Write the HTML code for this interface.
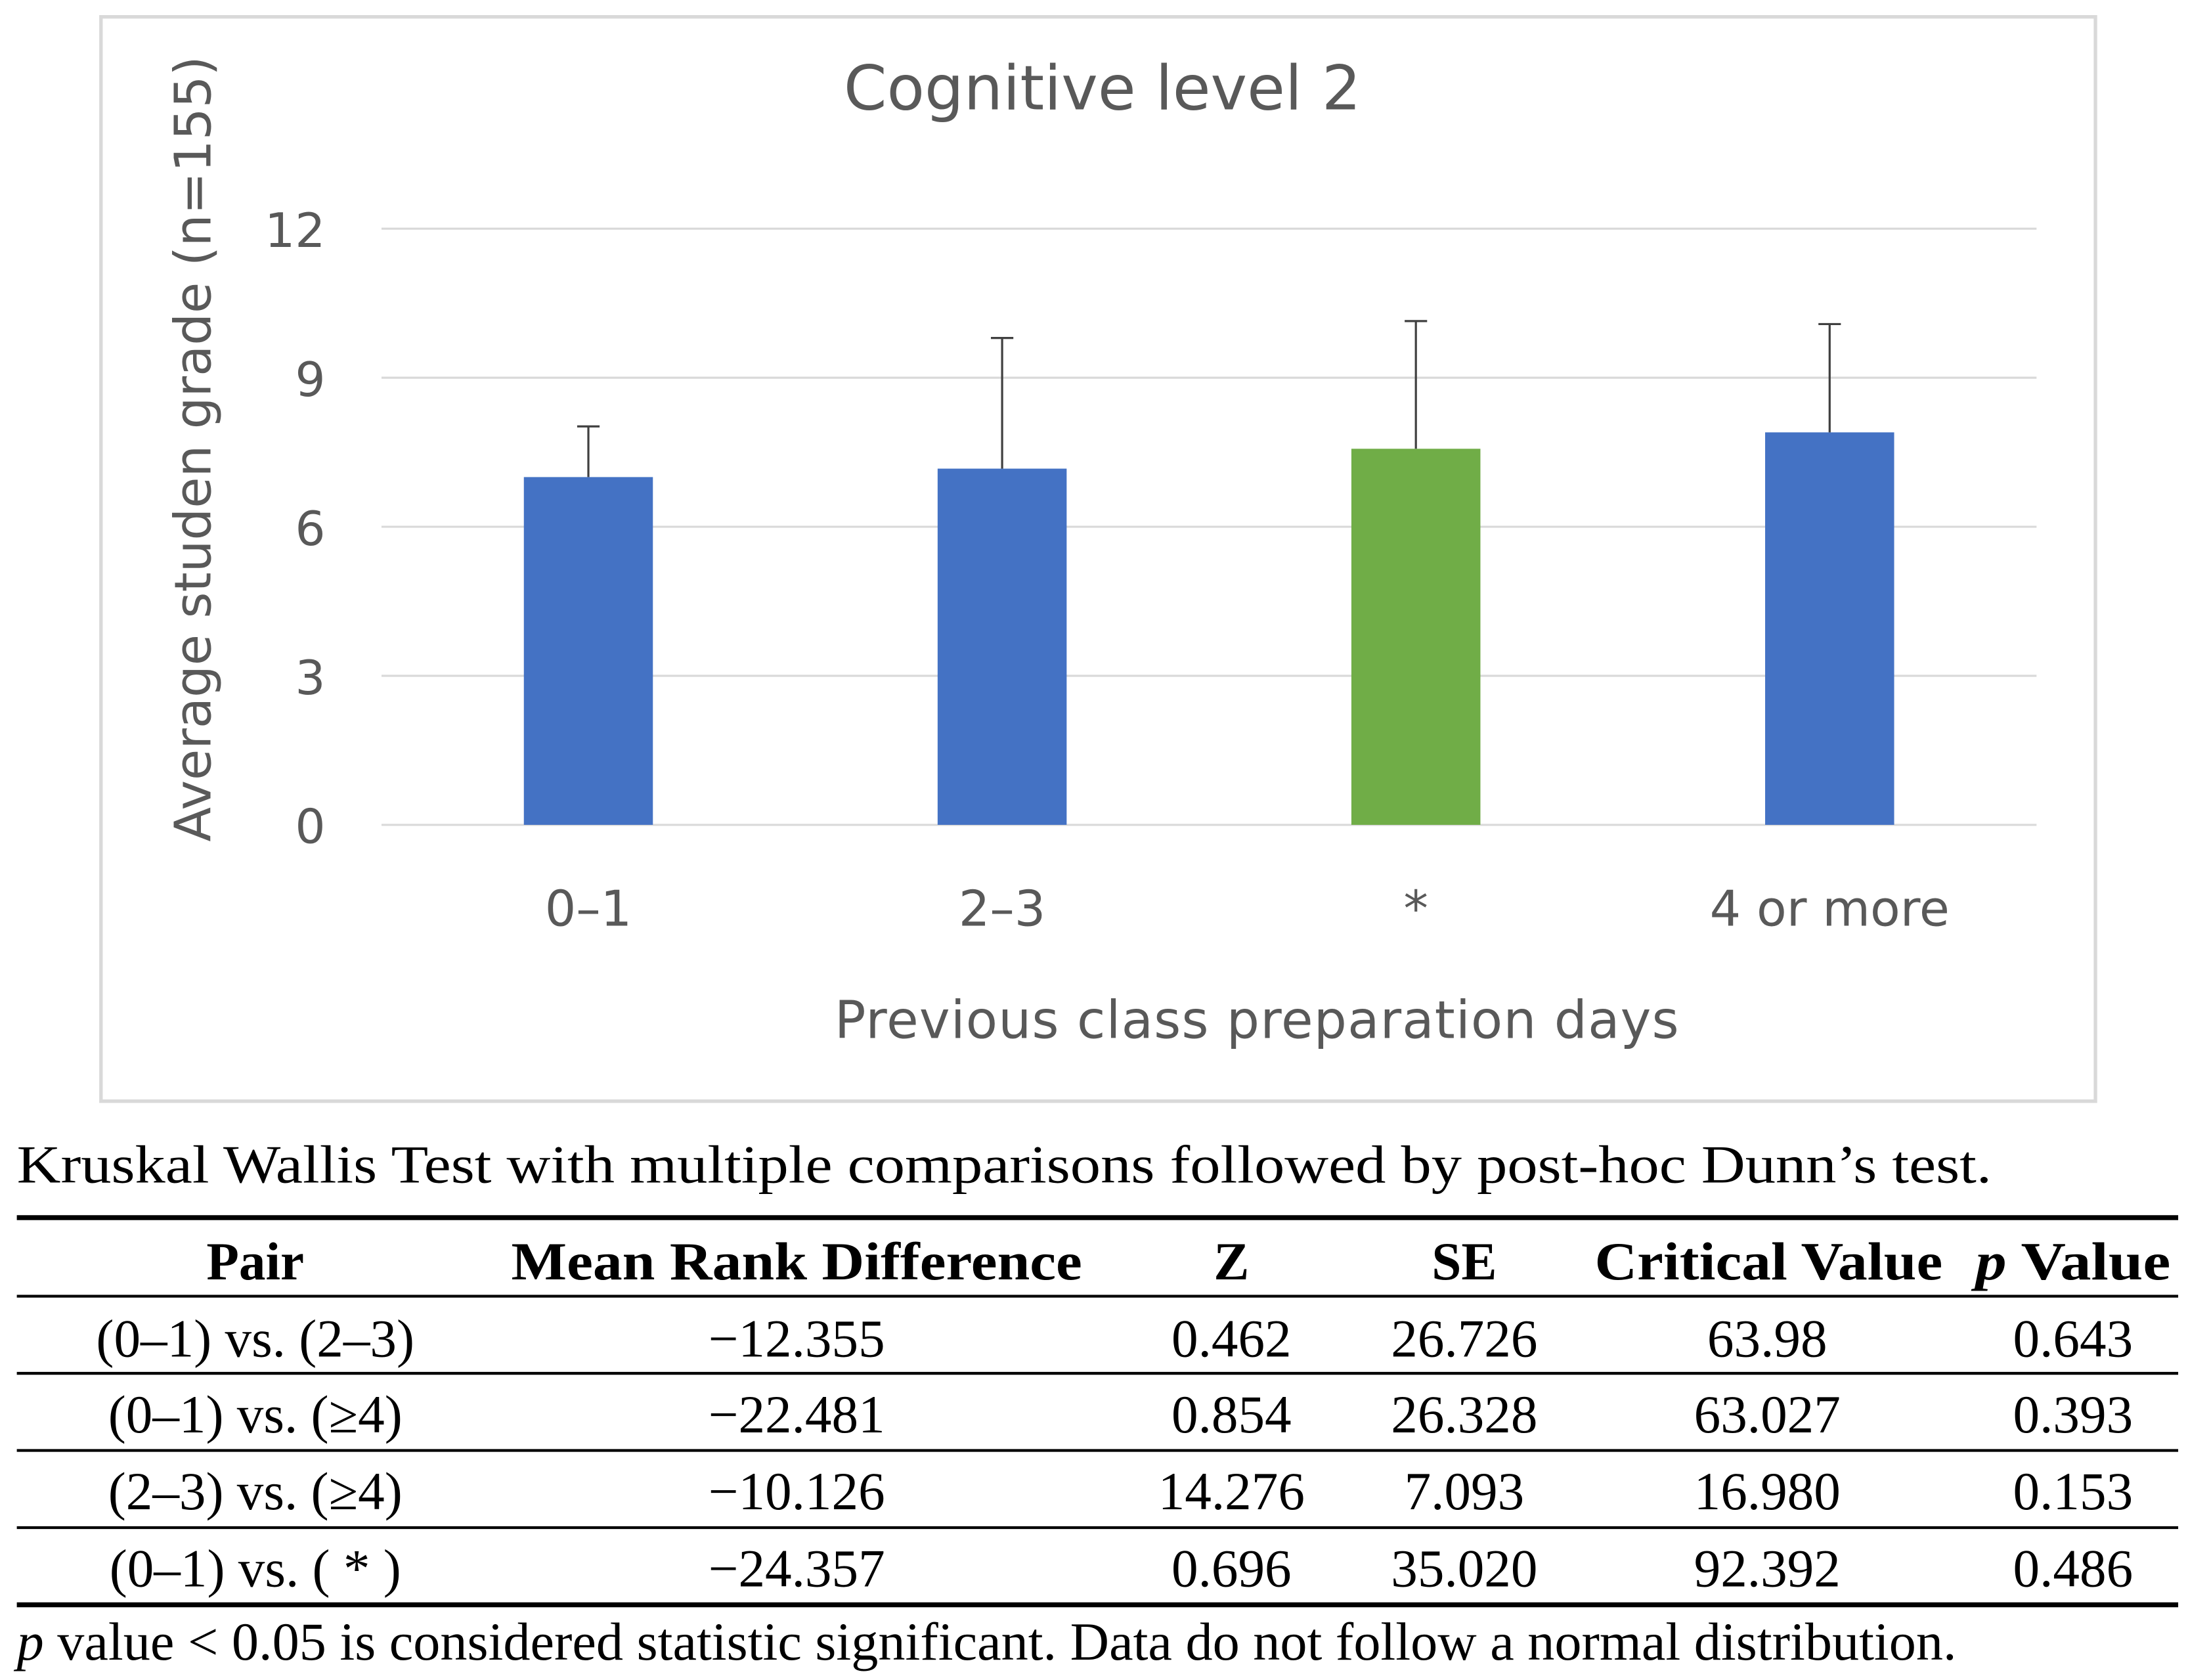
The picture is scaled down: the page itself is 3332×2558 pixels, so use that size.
<!DOCTYPE html>
<html><head><meta charset="utf-8"><style>html,body{margin:0;padding:0;background:#fff}svg{display:block}</style></head>
<body>
<svg width="3332" height="2558" viewBox="0 0 1560 1197.6" xmlns="http://www.w3.org/2000/svg">
<rect x="0" y="0" width="1560" height="1197.6" fill="#fff"/>
<rect x="72" y="12" width="1422" height="773" fill="#fff" stroke="#d9d9d9" stroke-width="2.5"/>
<text x="786" y="78" text-anchor="middle" font-family="'DejaVu Sans',sans-serif" font-size="44" fill="#595959">Cognitive level 2</text>
<g id="grid"></g>
<g id="bars"></g>
<text transform="translate(150,320) rotate(-90)" text-anchor="middle" font-family="'DejaVu Sans',sans-serif" font-size="36" fill="#595959">Average studen grade (n=155)</text>
<text x="896" y="740" text-anchor="middle" font-family="'DejaVu Sans',sans-serif" font-size="37" fill="#595959" textLength="602">Previous class preparation  days</text>

<g font-family="'Liberation Serif',serif" font-size="38" fill="#000">
<text x="12" y="843" textLength="1408" lengthAdjust="spacingAndGlyphs">Kruskal Wallis Test with multiple comparisons followed by post-hoc Dunn’s test.</text>
<line x1="12" y1="868" x2="1553" y2="868" stroke="#000" stroke-width="3.5"/>
<line x1="12" y1="924" x2="1553" y2="924" stroke="#000" stroke-width="2"/>
<line x1="12" y1="979" x2="1553" y2="979" stroke="#000" stroke-width="2"/>
<line x1="12" y1="1034" x2="1553" y2="1034" stroke="#000" stroke-width="2"/>
<line x1="12" y1="1089" x2="1553" y2="1089" stroke="#000" stroke-width="2"/>
<line x1="12" y1="1144" x2="1553" y2="1144" stroke="#000" stroke-width="3.5"/>
<g font-weight="bold" text-anchor="middle">
<text x="182" y="912">Pair</text><text x="568" y="912" textLength="407" lengthAdjust="spacingAndGlyphs">Mean Rank Difference</text><text x="878" y="912">Z</text><text x="1044" y="912">SE</text><text x="1261" y="912" textLength="248" lengthAdjust="spacingAndGlyphs">Critical Value</text><text x="1478" y="912" textLength="139" lengthAdjust="spacingAndGlyphs"><tspan font-style="italic">p</tspan> Value</text>
</g>
<g text-anchor="middle">
<text x="182" y="967">(0–1) vs. (2–3)</text><text x="568" y="967">−12.355</text><text x="878" y="967">0.462</text><text x="1044" y="967">26.726</text><text x="1260" y="967">63.98</text><text x="1478" y="967">0.643</text>
<text x="182" y="1021">(0–1) vs. (≥4)</text><text x="568" y="1021">−22.481</text><text x="878" y="1021">0.854</text><text x="1044" y="1021">26.328</text><text x="1260" y="1021">63.027</text><text x="1478" y="1021">0.393</text>
<text x="182" y="1076">(2–3) vs. (≥4)</text><text x="568" y="1076">−10.126</text><text x="878" y="1076">14.276</text><text x="1044" y="1076">7.093</text><text x="1260" y="1076">16.980</text><text x="1478" y="1076">0.153</text>
<text x="182" y="1131">(0–1) vs. ( * )</text><text x="568" y="1131">−24.357</text><text x="878" y="1131">0.696</text><text x="1044" y="1131">35.020</text><text x="1260" y="1131">92.392</text><text x="1478" y="1131">0.486</text>
</g>
<text x="12" y="1183" textLength="1383" lengthAdjust="spacingAndGlyphs"><tspan font-style="italic">p</tspan> value &lt; 0.05 is considered statistic significant. Data do not follow a normal distribution.</text>
</g>
</svg>
<script>
const categories = ["0–1","2–3","*","4 or more"];
const means = [7.0, 7.17, 7.57, 7.9];
const errUpper = [8.02, 9.8, 10.14, 10.08];
const colors = ["#4472c4","#4472c4","#70ad47","#4472c4"];
const yTicks = [0,3,6,9,12];
const NS="http://www.w3.org/2000/svg";
const y0=588, y12=163, xL=272, xR=1452;
function yS(v){return y0-(v/12)*(y0-y12);}
function xS(i){return xL+(i+0.5)*(xR-xL)/categories.length;}
const grid=document.getElementById('grid'), bars=document.getElementById('bars');
function mk(tag,attrs,parent){const e=document.createElementNS(NS,tag);for(const k in attrs)e.setAttribute(k,attrs[k]);parent.appendChild(e);return e;}
yTicks.forEach(t=>{
  const l=mk('line',{x1:xL,x2:xR,y1:yS(t),y2:yS(t),stroke:'#d9d9d9','stroke-width':1.5},grid);
  
  
  const tx=mk('text',{x:232,y:yS(t)+13,'text-anchor':'end','font-family':"'DejaVu Sans',sans-serif",'font-size':34,fill:'#595959'},grid);
  tx.textContent=t;
  
  
});
const bw=92;
categories.forEach((c,i)=>{
  const cx=xS(i);
  const r=mk('rect',{x:cx-bw/2,y:yS(means[i]),width:bw,height:yS(0)-yS(means[i]),fill:colors[i]},bars);
  
  
  const e=mk('line',{x1:cx,x2:cx,y1:yS(means[i]),y2:yS(errUpper[i]),stroke:'#404040','stroke-width':1.5},bars);
  
  
  const cap=mk('line',{x1:cx-8,x2:cx+8,y1:yS(errUpper[i]),y2:yS(errUpper[i]),stroke:'#404040','stroke-width':1.5},bars);
  
  
  const t=mk('text',{x:cx,y:660,'text-anchor':'middle','font-family':"'DejaVu Sans',sans-serif",'font-size':35,fill:'#595959'},bars);
  t.textContent=c;
  
  
});
</script>
</body></html>
